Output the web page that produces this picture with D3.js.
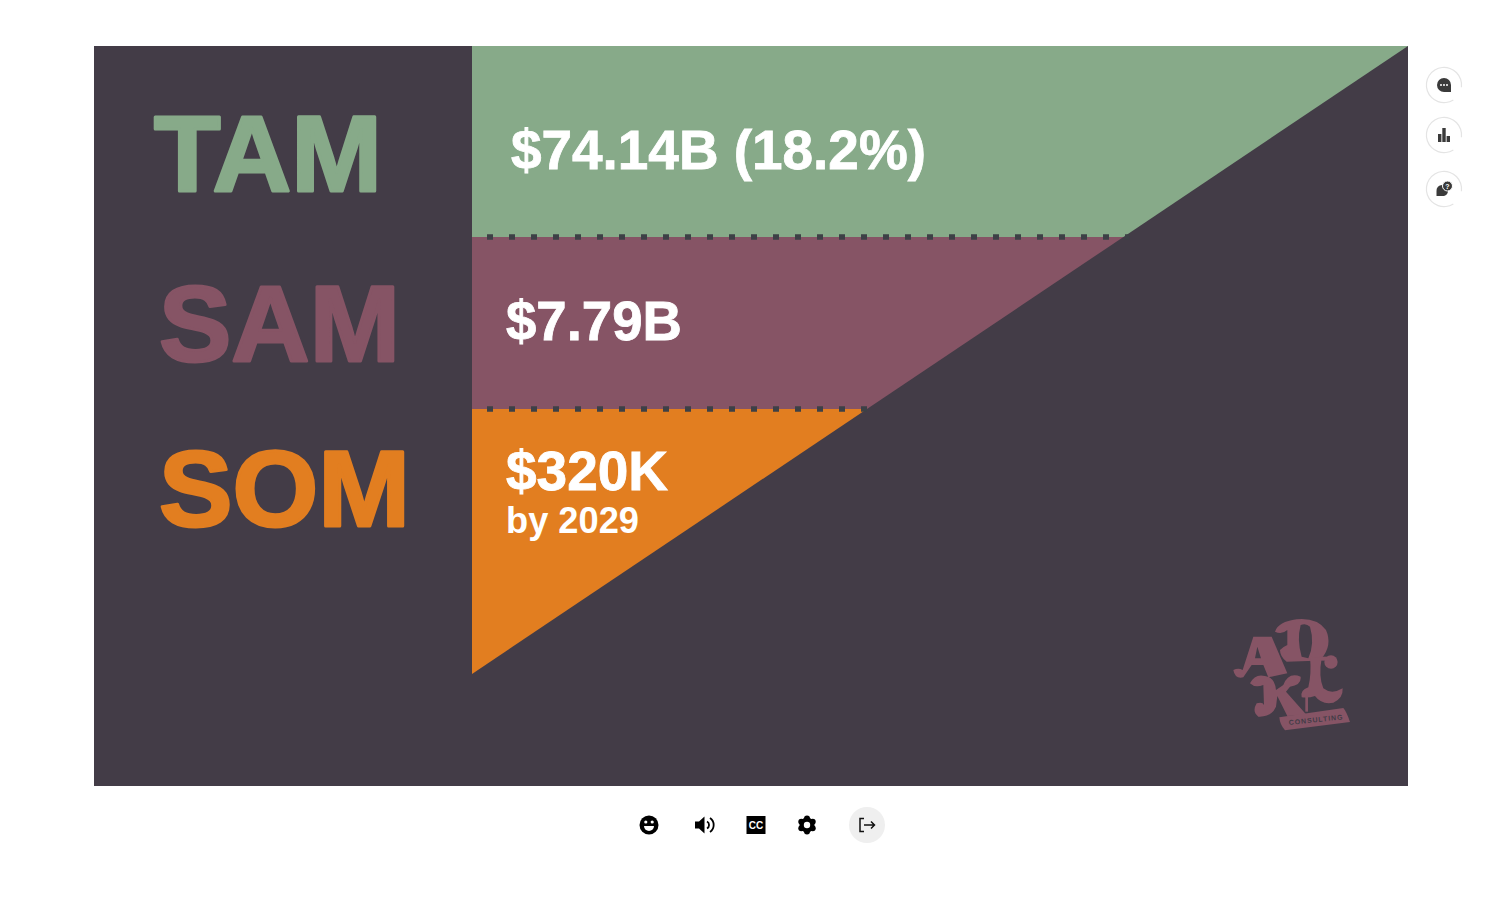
<!DOCTYPE html>
<html lang="en">
<head>
<meta charset="UTF-8">
<title>TAM SAM SOM</title>
<script src="https://cdnjs.cloudflare.com/ajax/libs/d3/7.8.5/d3.min.js"></script>
<style>
    html, body { margin: 0; background: #fff; }
    svg { display: block; }
    text { font-family: "Liberation Sans", Arial, sans-serif; font-weight: 700; }
</style>
</head>
<body>
<svg id="chart"></svg>
<script>
// Data
const tiers = ["TAM", "SAM", "SOM"];
const tierValues = ["$74.14B (18.2%)", "$7.79B", "$320K"];
const tierColors = ["#87aa89", "#865465", "#e27e20"];
// bottom edge of each band, as a share of the funnel height
const tierDepths = [0.304, 0.578, 1];
const somNote = "by 2029";

const width = 1500, height = 902;
const panel = { left: 94, right: 1408, top: 46, bottom: 786 };
const darkColor = "#433c47";

const svg = d3.select("#chart").attr("width", width).attr("height", height);

const y = d3.scaleLinear().domain([0, 1]).range([panel.top, 674]);
const x = d3.scaleLinear().domain([0, 1]).range([1408, 472]);

svg.append("rect")
    .attr("x", panel.left).attr("y", panel.top)
    .attr("width", panel.right - panel.left).attr("height", panel.bottom - panel.top)
    .attr("fill", darkColor);

// funnel bands
const bandLine = d3.line();
tiers.forEach((t, i) => {
    const d0 = i ? tierDepths[i - 1] : 0, d1 = tierDepths[i];
    svg.append("path")
        .attr("d", bandLine([[x(1), y(d0)], [x(d0), y(d0)], [x(d1), y(d1)], [x(1), y(d1)]]) + "Z")
        .attr("fill", tierColors[i]);
});

// dotted separators
tierDepths.slice(0, 2).forEach(d => {
    svg.append("line")
        .attr("x1", x(1) + 15).attr("x2", x(d) + 6)
        .attr("y1", y(d)).attr("y2", y(d))
        .attr("stroke", "#3d4046").attr("stroke-width", 5.5)
        .attr("stroke-dasharray", "6 16");
});

// left labels, stroked a little because the original face is heavier
const labelPos = [[154, 191, 228], [159, 361, 241], [159, 526, 251]];
tiers.forEach((t, i) => {
    svg.append("text")
        .attr("x", labelPos[i][0]).attr("y", labelPos[i][1])
        .attr("textLength", labelPos[i][2]).attr("lengthAdjust", "spacingAndGlyphs")
        .attr("font-size", 108).attr("fill", tierColors[i])
        .attr("stroke", tierColors[i]).attr("stroke-width", 3).attr("stroke-linejoin", "round")
        .text(t);
});

// value labels
const valuePos = [[511, 169, 415, 55], [506, 340, 176, 55], [506, 490, 162, 55]];
tierValues.forEach((v, i) => {
    svg.append("text")
        .attr("x", valuePos[i][0]).attr("y", valuePos[i][1])
        .attr("textLength", valuePos[i][2]).attr("lengthAdjust", "spacingAndGlyphs")
        .attr("font-size", valuePos[i][3]).attr("fill", "#fff")
        .attr("stroke", "#fff").attr("stroke-width", 0.8)
        .text(v);
});
svg.append("text")
    .attr("x", 506).attr("y", 533)
    .attr("textLength", 133).attr("lengthAdjust", "spacingAndGlyphs")
    .attr("font-size", 37).attr("fill", "#fff").text(somNote);

// logo, traced roughly at 3x
const logoColor = "#865465";
const logo = svg.append("g").attr("transform", "translate(1200,590) scale(0.3333)");
// D bowl with its counter
logo.append("path").attr("fill", logoColor).attr("fill-rule", "evenodd")
    .attr("d", "M225 125 Q235 95 290 88 Q350 82 378 120 Q398 165 365 205 L345 212 L260 215 Q240 200 240 180 Q250 170 262 165 L262 120 Q245 135 225 125Z M302 105 Q290 150 305 200 L325 205 Q345 160 330 110 Q318 98 302 105Z");
// L stem, foot and balls
logo.append("path").attr("fill", logoColor)
    .attr("d", "M330 200 L365 205 Q355 260 370 295 Q395 315 428 295 Q430 325 400 338 Q365 345 345 318 Q325 325 305 322 Q300 300 325 292 Q335 250 330 200Z");
logo.append("circle").attr("cx", 393).attr("cy", 216).attr("r", 20).attr("fill", logoColor);
logo.append("rect").attr("x", 360).attr("y", 200).attr("width", 30).attr("height", 12).attr("fill", logoColor);
// A
logo.append("path").attr("fill", logoColor).attr("fill-rule", "evenodd")
    .attr("d", "M160 140 L215 140 L262 250 L205 262 L190 225 L155 225 L130 262 Q105 268 100 240 Q115 232 128 240 Z M165 205 L183 205 L172 170Z");
// K
logo.append("path").attr("fill", logoColor)
    .attr("d", "M195 258 Q225 262 228 300 L250 285 Q265 245 302 260 Q305 285 270 290 L258 305 L320 375 L262 378 L232 318 L228 350 Q215 382 175 380 Q155 365 170 340 Q188 335 192 345 L190 285 Q165 295 150 280 Q165 250 195 258Z");
logo.append("rect").attr("x", 316).attr("y", 320).attr("width", 8).attr("height", 45).attr("fill", logoColor);
// tag
logo.append("path").attr("fill", logoColor)
    .attr("d", "M238 382 L430 354 Q440 365 450 396 L255 421 Q240 405 238 382Z");
svg.append("text")
    .attr("transform", "translate(1289,725) rotate(-6)")
    .attr("font-size", 7).attr("letter-spacing", 0.9)
    .attr("fill", darkColor).text("CONSULTING");

// side buttons
const sideY = [85, 135, 189];
const sideG = svg.selectAll("g.side").data(sideY).join("g")
    .attr("class", "side")
    .attr("transform", d => `translate(1444,${d})`);
sideG.append("path")
    .attr("d", d3.arc()({ innerRadius: 17, outerRadius: 18.2, startAngle: -3.7, endAngle: 1.7 }))
    .attr("fill", "#e4e4e4");

const iconColor = "#3a3a3a";
const s0 = d3.select(sideG.nodes()[0]);
s0.append("path").attr("d", "M0 -7 A7 7 0 1 0 0 7 L7 7 L7 0 A7 7 0 0 0 0 -7Z").attr("fill", iconColor);
[-3, 0, 3].forEach(c => s0.append("circle").attr("cx", c).attr("cy", 0).attr("r", 1).attr("fill", "#fff"));
const s1 = d3.select(sideG.nodes()[1]);
[[-6, -1, 3.4, 8], [-1.7, -7, 3.4, 14], [2.6, 1, 3.4, 6]].forEach(b =>
    s1.append("rect").attr("x", b[0]).attr("y", b[1]).attr("width", b[2]).attr("height", b[3]).attr("fill", iconColor));
const s2 = d3.select(sideG.nodes()[2]);
s2.append("path").attr("d", "M-2 -4 A5.5 5.5 0 0 0 -7.5 2 L-7.5 7 L0 7 A5.5 5.5 0 0 0 4 2 A5.5 5.5 0 0 0 -2 -4Z").attr("fill", iconColor);
s2.append("circle").attr("cx", 3.5).attr("cy", -3).attr("r", 5).attr("fill", iconColor).attr("stroke", "#fff").attr("stroke-width", 1);
s2.append("text").attr("x", 3.5).attr("y", -0.5).attr("font-size", 7).attr("text-anchor", "middle").attr("fill", "#fff").text("?");

// bottom toolbar
const bar = svg.append("g");
const smile = bar.append("g").attr("transform", "translate(649,825)");
smile.append("circle").attr("r", 9.5).attr("fill", "#000");
smile.append("circle").attr("cx", -3.2).attr("cy", -3).attr("r", 1.6).attr("fill", "#fff");
smile.append("circle").attr("cx", 3.2).attr("cy", -3).attr("r", 1.6).attr("fill", "#fff");
smile.append("path").attr("d", "M-5 1 L5 1 A5 5 0 0 1 -5 1Z").attr("fill", "#fff");

const sound = bar.append("g").attr("transform", "translate(705,825)");
sound.append("path").attr("d", "M-10 -3.5 L-6 -3.5 L-0.5 -8.5 L-0.5 8.5 L-6 3.5 L-10 3.5Z").attr("fill", "#000");
sound.append("path").attr("d", "M2 -3.5 A4 4 0 0 1 2 3.5").attr("fill", "none").attr("stroke", "#000").attr("stroke-width", 1.8);
sound.append("path").attr("d", "M5 -7 A8.5 8.5 0 0 1 5 7").attr("fill", "none").attr("stroke", "#000").attr("stroke-width", 1.8);

const cc = bar.append("g").attr("transform", "translate(756,825)");
cc.append("rect").attr("x", -9.5).attr("y", -9).attr("width", 19).attr("height", 18).attr("fill", "#000");
cc.append("text").attr("y", 3.5).attr("text-anchor", "middle").attr("font-size", 10).attr("fill", "#fff").text("CC");

const gear = bar.append("g").attr("transform", "translate(807,825)");
d3.range(6).forEach(i => {
    const a = Math.PI / 3 * i;
    gear.append("circle").attr("cx", 6.6 * Math.sin(a)).attr("cy", -6.6 * Math.cos(a)).attr("r", 3).attr("fill", "#000");
});
gear.append("circle").attr("r", 7.5).attr("fill", "#000");
gear.append("circle").attr("r", 3.2).attr("fill", "#fff");

const exit = bar.append("g").attr("transform", "translate(867,825)");
exit.append("circle").attr("r", 18).attr("fill", "#efefef");
exit.append("path").attr("d", "M-3 -6.5 L-7 -6.5 L-7 6.5 L-3 6.5").attr("fill", "none").attr("stroke", "#111").attr("stroke-width", 1.5);
exit.append("path").attr("d", "M-3 0 L7.5 0 M4 -3.5 L7.5 0 L4 3.5").attr("fill", "none").attr("stroke", "#111").attr("stroke-width", 1.5);
</script>
</body>
</html>
